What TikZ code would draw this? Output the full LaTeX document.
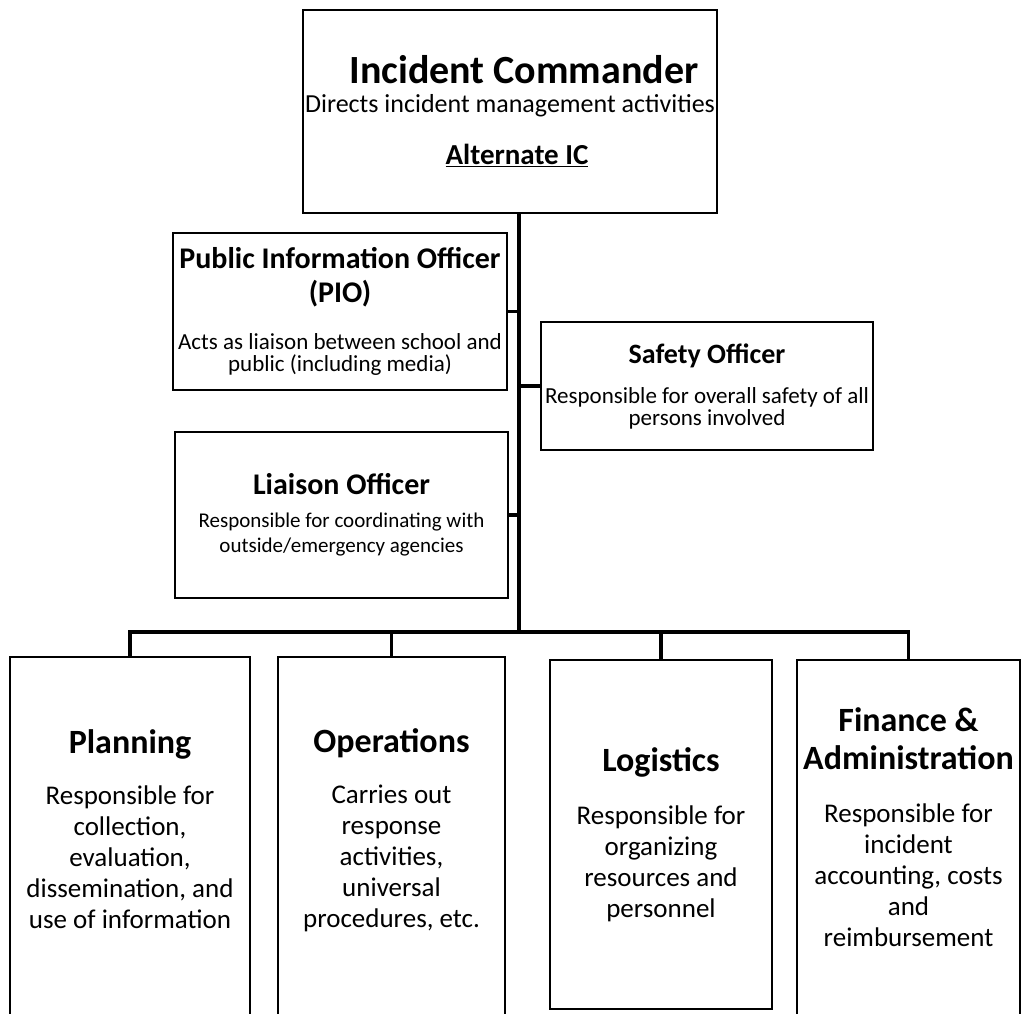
\documentclass[tikz,border=0pt]{standalone}
\usepackage{fontspec}
\setmainfont{Carlito}
\usetikzlibrary{calc}

\tikzset{
  box/.style={draw, line width=2.8pt, rectangle, inner sep=0pt, align=center},
  link/.style={line width=3.2pt},
  small/.style={font=\fontsize{23}{22}\selectfont},
  big/.style={font=\fontsize{27}{31}\selectfont},
}
\newcommand{\hd}[1]{\fontsize{#1}{#1}\selectfont\bfseries}

\begin{document}
\begin{tikzpicture}[x=1pt,y=-1pt]
\useasboundingbox (0,0) rectangle (1022,1013);
\clip (0,0) rectangle (1022,1013);

%incident commander
\node[box, minimum width=414pt, minimum height=203pt, font=\fontsize{26}{25}\selectfont] (ic) at (510,111.5)
  {{\hd{40}\hspace{28pt}Incident Commander}\\[4pt]
   Directs incident management activities\\[27pt]
   {\hd{29}\hspace{14pt}\underline{Alternate IC}}};

%command staff
\node[box, small, minimum width=334pt, minimum height=157pt] (pio) at (340,311.5)
  {{\hd{30}Public Information Officer}\\[11pt]
   {\hd{30}(PIO)}\\[25pt]
   Acts as liaison between school and\\
   public (including media)};
\node[box, small, minimum width=332pt, minimum height=128pt] (safety) at (707,386)
  {{\hd{28}Safety Officer}\\[18pt]
   Responsible for overall safety of all\\
   persons involved};
\node[box, minimum width=333pt, minimum height=166pt, font=\fontsize{21}{25}\selectfont] (liaison) at (341.5,515)
  {{\hd{30}Liaison Officer}\\[8pt]
   Responsible for coordinating with\\
   outside/emergency agencies};

%general staff (bottoms run off the page)
\node[box, big, minimum width=240pt, minimum height=363pt, text depth=18pt] (plan) at (130,838.5)
  {{\hd{34}Planning}\\[20pt]
   Responsible for\\ collection,\\ evaluation,\\ dissemination, and\\ use of information};
\node[box, big, minimum width=227pt, minimum height=363pt, text depth=20pt] (ops) at (391.5,838.5)
  {{\hd{34}Operations}\\[20pt]
   Carries out\\ response\\ activities,\\ universal\\ procedures, etc.};
\node[box, big, minimum width=222pt, minimum height=349pt] (log) at (661,834.5)
  {{\hd{34}Logistics}\\[22pt]
   Responsible for\\ organizing\\ resources and\\ personnel};
\node[box, big, minimum width=223pt, minimum height=360pt, text depth=26pt] (fin) at (908.5,840)
  {{\hd{34}Finance \&}\\[7pt]
   {\hd{34}Administration}\\[22pt]
   Responsible for\\ incident\\ accounting, costs\\ and\\ reimbursement};

%connectors
\coordinate (hub) at (519,632);
\draw[link] (ic.south -| hub) -- (hub);
\draw[link] (pio.east) -- (pio.east -| hub);
\draw[link] (safety.west) -- (safety.west -| hub);
\draw[link] (liaison.east) -- (liaison.east -| hub);
\foreach \b in {plan,ops,log,fin} {
\draw[link] (\b.north) |- (hub);
}

\end{tikzpicture}
\end{document}
